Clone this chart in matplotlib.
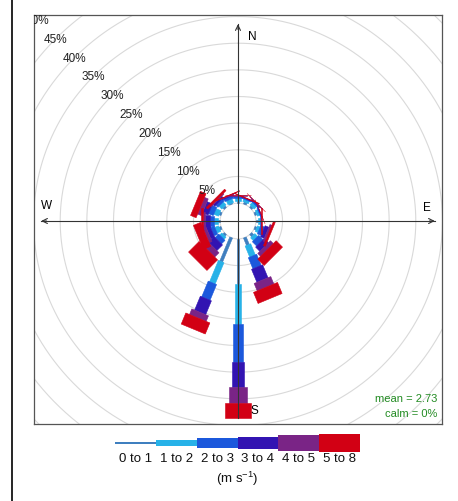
import matplotlib
matplotlib.use("Agg")
import matplotlib.pyplot as plt
import numpy as np

plt.rcParams['font.family'] = ['Liberation Sans', 'DejaVu Sans']
plt.rcParams['mathtext.default'] = 'regular'

# wind directions (deg) and frequency (%) of each speed bin per direction
directions = [0, 22.5, 45, 67.5, 90, 112.5, 135, 157.5, 180, 202.5, 225, 247.5, 270, 292.5, 315, 337.5]
bin_labels = ["0 to 1", "1 to 2", "2 to 3", "3 to 4", "4 to 5", "5 to 8"]
freq_0_1 = [0.38, 0.38, 0.38, 0.38, 0.38, 0.38, 0.56, 1.50, 8.44, 4.88, 0.38, 0.38, 0.38, 0.38, 0.38, 0.19]
freq_1_2 = [0.66, 0.47, 0.66, 0.47, 0.38, 0.56, 0.75, 2.25, 7.50, 4.32, 0.56, 0.75, 0.75, 0.94, 0.75, 0.75]
freq_2_3 = [0.28, 0.19, 0.28, 0.19, 0.19, 0.75, 1.13, 2.25, 7.13, 3.19, 0.94, 0.75, 0.75, 0.94, 0.56, 0.47]
freq_3_4 = [0.09, 0.09, 0.09, 0.09, 0.09, 0.75, 1.13, 2.63, 4.69, 2.81, 1.50, 0.75, 0.94, 1.13, 0.38, 0.19]
freq_4_5 = [0.09, 0.00, 0.09, 0.00, 0.00, 0.38, 0.75, 1.50, 3.00, 1.13, 1.13, 0.56, 0.38, 0.75, 0.19, 0.09]
freq_5_8 = [0.00, 0.09, 0.00, 0.00, 0.09, 0.38, 1.69, 2.25, 2.81, 2.25, 2.81, 1.50, 0.38, 1.13, 0.38, 0.09]
grid_pct = [5, 10, 15, 20, 25, 30, 35, 40, 45, 50]
mean_txt = "mean = 2.73"
calm_txt = "calm = 0%"

colors = ['#3F7FBF', '#27B2E8', '#1B58DC', '#3214B2', '#7A2486', '#D20014']
widths = [0.56, 1.13, 1.69, 2.25, 3.38, 4.88]   # paddle widths (freq units)
leg_heights = [2.5, 6.7, 10, 12.3, 15.7, 18.7]  # legend bar heights (px)

freqs = np.array([freq_0_1, freq_1_2, freq_2_3, freq_3_4, freq_4_5, freq_5_8])
cum = np.cumsum(freqs, axis=0)
max_freq = cum[-1].max()
off = max_freq * 0.1
px = 5.33  # pixels per % on the reference

fig = plt.figure(figsize=(4.58, 5.02), dpi=100)
ax = fig.add_axes([34/458, (502-425)/502, 408/458, 409/502])
ax.set_xlim(-204/px, 204/px)
ax.set_ylim(-203/px, 206/px)
ax.set_xticks([])
ax.set_yticks([])
for s in ax.spines.values():
    s.set_color('#555555')
    s.set_linewidth(0.9)

# grid circles
t = np.linspace(0, 2*np.pi, 400)
for r in [0] + grid_pct + [55]:
    ax.plot((r+off)*np.sin(t), (r+off)*np.cos(t), color='#d9d9d9', lw=0.8, zorder=1)

# paddles
for j, wd in enumerate(directions):
    a = np.deg2rad(wd)
    ux, uy = np.sin(a), np.cos(a)
    px_, py_ = np.cos(a), -np.sin(a)
    for i in range(6):
        l1 = (cum[i-1, j] if i > 0 else 0) + off
        l2 = cum[i, j] + off
        w = widths[i] / 2
        xs = [l1*ux - w*px_, l2*ux - w*px_, l2*ux + w*px_, l1*ux + w*px_]
        ys = [l1*uy - w*py_, l2*uy - w*py_, l2*uy + w*py_, l1*uy + w*py_]
        ax.fill(xs, ys, facecolor=colors[i], edgecolor=colors[i], lw=0.4, zorder=3 + i*0.01)

# axis lines with arrows
R = max_freq + off
ax.plot([0, 0], [-R, R], color='#333333', lw=0.8, zorder=5)
ax.plot([-R, R], [0, 0], color='#333333', lw=0.8, zorder=5)
for (x0, y0, x1, y1) in [(0, R-1, 0, R), (R-1, 0, R, 0), (-R+1, 0, -R, 0)]:
    ax.annotate('', xy=(x1, y1), xytext=(x0, y0),
                arrowprops=dict(arrowstyle='->', color='#333333', lw=0.8,
                                mutation_scale=9, shrinkA=0, shrinkB=0), zorder=6)

# percent labels along the NW diagonal
ang = np.deg2rad(315)
for g in grid_pct:
    r = g + off
    ax.text(r*np.sin(ang), r*np.cos(ang), "%d%%" % g, ha='center', va='center',
            fontsize=8.5, color='#222222', zorder=7, clip_on=True)

ax.text(14/px, 185/px, "N", fontsize=8.5, ha='center', va='center', zorder=7)
ax.text(189/px, 14/px, "E", fontsize=8.5, ha='center', va='center', zorder=7)
ax.text(-191/px, 16/px, "W", fontsize=8.5, ha='center', va='center', zorder=7)
ax.text(16/px, -189/px, "S", fontsize=8.5, ha='center', va='center', zorder=7)

ax.text(199/px, -177/px, mean_txt, fontsize=8, color='#228B22', ha='right', va='center', zorder=7)
ax.text(199/px, -192/px, calm_txt, fontsize=8, color='#228B22', ha='right', va='center', zorder=7)

# legend in pixel coordinates
lax = fig.add_axes([0, 0, 1, (502-427)/502])
lax.set_xlim(0, 458)
lax.set_ylim(502, 427)
lax.axis('off')
x0, seg = 115, (360-115)/6
for i in range(6):
    h = leg_heights[i]
    lax.add_patch(plt.Rectangle((x0 + i*seg, 444 - h/2), seg, h, facecolor=colors[i], edgecolor='none'))
    lax.text(x0 + (i+0.5)*seg, 459, bin_labels[i], ha='center', va='center', fontsize=9.5, color='#111111')
lax.text(237, 479, "(m s$^{-1}$)", ha='center', va='center', fontsize=9.5, color='#111111')

# outer frame line on the left
fig.add_artist(plt.Line2D([12/458, 12/458], [0, 1], color='black', lw=1.2))

fig.savefig("out.png", dpi=100)
